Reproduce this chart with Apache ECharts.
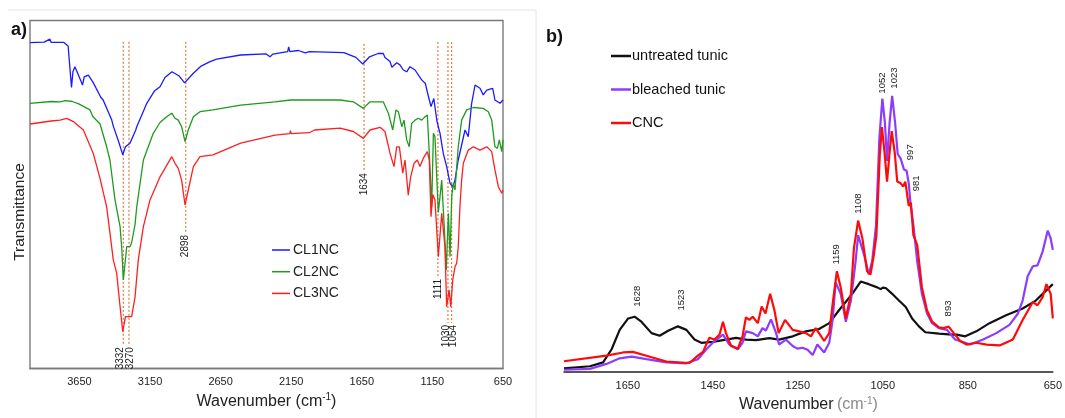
<!DOCTYPE html>
<html>
<head>
<meta charset="utf-8">
<script src="https://cdn.jsdelivr.net/npm/echarts@6/dist/echarts.min.js"></script>
<style>
html,body{margin:0;padding:0;background:#fff;}
#chart{width:1065px;height:418px;}
</style>
</head>
<body>
<div id="chart"></div>
<script>
// ---------- Panel a data: [wavenumber, transmittance (a.u.)] ----------
const seriesNamesA = ['CL1NC', 'CL2NC', 'CL3NC'];
const cl1nc = [[4000,108.6],[3900,108.8],[3860,109.8],[3850,108.7],[3760,108.7],[3730,107.5],[3706,93.7],[3696,98.9],[3682,100.6],[3657,97.8],[3628,94.5],[3616,97.2],[3587,97.8],[3552,95.3],[3500,90.5],[3482,89.5],[3421,82.8],[3410,80.8],[3372,75.6],[3343,71.2],[3324,73.9],[3292,75.1],[3251,79.5],[3244,80.6],[3190,86.5],[3173,88.4],[3117,92.6],[3079,93.9],[3044,97],[2995,98.9],[2946,97.6],[2905,95.2],[2861,97.5],[2843,98.4],[2788,100.8],[2725,102.3],[2678,103.1],[2508,104.5],[2330,104.9],[2300,103.9],[2280,104.8],[2175,105.6],[2168,107.2],[2160,105.6],[2100,106],[2050,105.2],[2021,105.6],[1777,105.3],[1692,103.7],[1643,101.5],[1595,103.9],[1535,105],[1498,105],[1486,103.7],[1450,102.3],[1437,100.4],[1427,100.6],[1403,101.9],[1380,101.2],[1356,99.5],[1332,98.9],[1309,100.6],[1273,99.5],[1226,96.2],[1200,95],[1185,92],[1160,87.3],[1140,90],[1118,82.5],[1096,78.4],[1073,71.7],[1049,67.3],[1025,61.7],[1006,60.6],[990,62.8],[967,69.5],[919,79.5],[896,77.3],[872,88.4],[848,94.5],[813,93.4],[790,91.2],[765,92.8],[723,93.4],[707,89.5],[671,88.4],[650,89.5]];
const cl2nc = [[4000,88.4],[3850,89],[3787,88.9],[3750,89.3],[3700,89],[3655,88.2],[3646,88.4],[3575,86.2],[3555,84],[3504,81.5],[3457,73.9],[3434,69.5],[3398,56.2],[3362,47.3],[3350,40],[3339,29.5],[3327,35],[3315,40.6],[3292,40.6],[3280,42],[3268,41.7],[3256,48],[3244,53.9],[3197,69.5],[3127,78.4],[3079,82],[3032,83.9],[2996,85.1],[2973,83.4],[2950,82.8],[2926,80.6],[2902,75.6],[2879,79.5],[2843,83.9],[2796,85.6],[2704,86.2],[2508,87.8],[2265,88.9],[2155,89.5],[1990,89.5],[1804,89.5],[1710,88.9],[1639,86.7],[1592,88.9],[1498,88.9],[1462,85.1],[1431,79.5],[1408,86.2],[1391,85.6],[1367,80.6],[1351,82.8],[1332,76.2],[1314,73.9],[1297,81.7],[1273,82.8],[1250,83.4],[1226,82.8],[1202,83.9],[1186,84.5],[1172,71.7],[1155,53.9],[1143,78.4],[1132,77.3],[1108,52],[1084,62.8],[1065,46.2],[1052,32.8],[1037,51.7],[1025,37.3],[1013,57.3],[1002,61.7],[990,59.5],[967,73.9],[943,82.8],[907,86.2],[860,87],[790,86.7],[754,85.6],[730,82.8],[707,73.9],[690,73.4],[676,76.2],[659,72.3],[650,76.2]];
const cl3nc = [[4000,81.5],[3850,82.5],[3787,82.8],[3740,83.4],[3693,82.3],[3622,79.5],[3552,71.7],[3504,63.4],[3457,53.9],[3410,36.2],[3386,31.7],[3362,20.6],[3343,12.3],[3324,17.3],[3304,17.3],[3280,17.3],[3256,23.9],[3233,36.2],[3197,47.3],[3150,56.2],[3079,63.9],[2996,70.6],[2973,68.4],[2950,66.7],[2926,62.8],[2902,54.5],[2879,59.5],[2843,67.3],[2796,70.6],[2704,71.2],[2508,75.1],[2265,77.8],[2160,78.3],[2155,79.3],[2150,78.3],[2021,78.6],[1985,79.5],[1804,80.1],[1710,79],[1639,76.7],[1592,79.5],[1521,80.4],[1486,79],[1450,71.7],[1422,67.3],[1403,73.9],[1384,73.9],[1360,65.1],[1344,69.5],[1321,57.8],[1304,63.9],[1280,68.4],[1257,69.5],[1238,67.3],[1214,70.1],[1186,72.3],[1172,69.5],[1160,50.6],[1147,58],[1132,56.2],[1108,37.3],[1084,51.7],[1075,52],[1061,40.6],[1049,20.6],[1032,26.2],[1020,20.6],[1006,29.5],[990,33.9],[978,35.1],[967,40.6],[955,53.9],[943,62.8],[931,68.4],[896,72.8],[860,73.9],[813,72.8],[765,73.9],[730,72.3],[707,66.2],[683,60.6],[659,58.4],[650,59.5]];
// peak marker lines: [wavenumber, top, bottom]
const peakLinesA = [[3339,108.9,7.8],[3299,108.9,7.8],[2897,108.9,45.2],[1634,108.2,65.8],[1111,108.8,30.5],[1040,108.8,15.2],[1014,108.8,15.2]];
const peakLabelsA = ['3332','3270','2898','1634','1111','1030','1054'];
const ticksA = [650,1150,1650,2150,2650,3150,3650];

// ---------- Panel b data: [wavenumber, absorbance (a.u.)] ----------
const seriesNamesB = ['untreated tunic', 'bleached tunic', 'CNC'];
const untreated = [[1800,1.3],[1739,2],[1708,3.3],[1688,7.8],[1669,14.4],[1649,18.3],[1634,18.9],[1618,17.2],[1594,13.3],[1575,12.4],[1555,14.1],[1532,15.6],[1512,14.4],[1493,11.1],[1477,10],[1450,10.3],[1419,11.1],[1395,11.7],[1372,11.1],[1348,10.9],[1317,11.6],[1294,11.1],[1262,12.2],[1231,13.9],[1200,14.7],[1176,16.7],[1153,21.1],[1122,26.7],[1102,30.9],[1083,30],[1063,28.9],[1055,28.3],[1050,28.8],[1043,28.7],[1028,26.7],[1012,24.4],[996,22.2],[981,18.3],[965,15.6],[950,13.6],[918,13.1],[887,12.8],[876,12.8],[856,12.2],[830,13.9],[799,16.7],[760,19.4],[721,21.7],[690,24.4],[666,27.8],[650,30]];
const bleached = [[1800,0.8],[1739,1.1],[1700,2.8],[1669,4.7],[1641,5.3],[1606,4.4],[1559,3.3],[1512,3],[1485,4.4],[1465,7.8],[1446,10.6],[1426,12.8],[1411,9.4],[1391,7.8],[1380,10],[1372,13.9],[1356,13.3],[1344,12.2],[1333,15],[1325,14.2],[1313,18],[1301,13.3],[1294,9.4],[1278,11.1],[1262,8.9],[1251,8],[1239,8.3],[1227,7.6],[1215,5.8],[1204,9.4],[1188,6.7],[1176,10],[1168,17.8],[1161,30.6],[1149,26.7],[1137,17.2],[1125,24.4],[1114,37.8],[1108,46.7],[1094,40],[1083,33.3],[1075,37.8],[1066,50],[1058,80],[1051,93.3],[1045,85],[1040,72],[1034,85],[1028,94.2],[1021,85],[1015,74.4],[1008,72.8],[1000,69.1],[994,68.7],[989,64.4],[985,57.8],[977,48.9],[969,37.8],[958,26.7],[946,20],[934,16.7],[918,15],[899,14.4],[880,11.1],[856,10],[845,9.4],[814,11.1],[783,13.3],[752,16.1],[732,20],[721,24.4],[709,32.8],[697,36.1],[686,36.4],[674,41.1],[662,48.3],[655,45.6],[650,41.7]];
const cnc = [[1800,3.7],[1700,5.6],[1661,6.7],[1638,6.9],[1606,5.6],[1559,3.6],[1505,3.1],[1485,5.6],[1473,6.9],[1458,11.7],[1446,11.1],[1434,12.8],[1426,17.2],[1419,13.3],[1407,8.9],[1391,8],[1380,12.2],[1372,18.7],[1364,17.8],[1356,18.9],[1344,16.7],[1335,22.4],[1326,20],[1315,26.7],[1305,21.1],[1295,13.3],[1280,17.8],[1262,14.4],[1247,13.9],[1231,13.3],[1219,12.2],[1208,15],[1200,13.3],[1188,10.6],[1176,13.3],[1167,24.4],[1158,34.4],[1149,28.9],[1137,18.3],[1125,26.7],[1118,42.2],[1108,51.7],[1098,45.6],[1087,34.4],[1079,33.3],[1071,40],[1065,46.7],[1057,74.4],[1052,83.6],[1046,75],[1040,65],[1034,75],[1029,82.2],[1022,75],[1016,65],[1008,64.4],[1002,63.3],[997,65],[989,56.7],[984,57.8],[978,46.7],[969,43.3],[958,28.9],[946,21.1],[934,17.2],[918,15.3],[907,15],[895,15.5],[883,13.3],[868,10.6],[853,9.4],[830,10],[806,9.4],[775,9.1],[744,11.1],[721,17.8],[697,23.9],[686,22.8],[674,25.6],[665,30],[655,26.7],[650,18.3]];
// peak labels: [wavenumber, height of label base]
const peakLabelPosB = [[1628,22.3],[1523,21],[1159,36.7],[1108,54],[1052,95],[1023,96.7],[985,72.3],[970,61.7],[896,19]];
const peakLabelsB = ['1628','1523','1159','1108','1052','1023','997','981','893'];
const ticksB = [650,850,1050,1250,1450,1650];

// ---------- styling ----------
const FONT = '"Liberation Sans", Arial, Helvetica, sans-serif';
const colorsA = ['#1a1aff', '#1f9a1f', '#ff1f1f'];
const colorsB = ['#111111', '#8c3cff', '#ff0a0a'];
const labelDxA = [-3, 1, 0, 0, 0, -2, 2];

function lineSeries(name, data, color, width, xi) {
  return {
    name: name, type: 'line', data: data, xAxisIndex: xi, yAxisIndex: xi,
    showSymbol: false, symbol: 'none', color: color, silent: true,
    lineStyle: {color: color, width: width}, animation: false, clip: true
  };
}

const chart = echarts.init(document.getElementById('chart'), null, {renderer: 'canvas'});

const option = {
  animation: false,
  backgroundColor: '#ffffff',
  textStyle: {fontFamily: FONT},
  grid: [
    {left: 30, right: 562, top: 20.5, bottom: 49.5, show: true, borderColor: '#7a7a7a', borderWidth: 1.4, backgroundColor: 'transparent'},
    {left: 564, right: 9, top: 35, bottom: 38}
  ],
  xAxis: [
    {
      gridIndex: 0, type: 'value', inverse: true, min: 650, max: 4000, interval: 500,
      axisLine: {show: true, lineStyle: {color: '#7a7a7a', width: 1.4}},
      axisTick: {show: false}, splitLine: {show: false},
      axisLabel: {fontSize: 11, color: '#222', margin: 8, fontFamily: FONT,
        formatter: v => ticksA.indexOf(v) >= 0 ? String(v) : ''},
      name: '{n|Wavenumber (cm}{s|-1}{n|)}', nameLocation: 'middle', nameGap: 23,
      nameTextStyle: {rich: {
        n: {fontSize: 16, color: '#222', fontFamily: FONT, lineHeight: 18},
        s: {fontSize: 10, color: '#222', fontFamily: FONT, verticalAlign: 'top', lineHeight: 12}
      }}
    },
    {
      gridIndex: 1, type: 'value', inverse: true, min: 650, max: 1800, interval: 200,
      axisLine: {show: true, lineStyle: {color: '#222', width: 1.5}},
      axisTick: {show: false}, splitLine: {show: false},
      axisLabel: {fontSize: 11, color: '#222', margin: 8, fontFamily: FONT,
        formatter: v => ticksB.indexOf(v) >= 0 ? String(v) : ''},
      name: '{n|Wavenumber} {g|(cm}{gs|-1}{g|)}', nameLocation: 'middle', nameGap: 22,
      nameTextStyle: {rich: {
        n: {fontSize: 16, color: '#222', fontFamily: FONT, lineHeight: 18},
        g: {fontSize: 16, color: '#8a8a8a', fontFamily: FONT, lineHeight: 18},
        gs: {fontSize: 10, color: '#8a8a8a', fontFamily: FONT, verticalAlign: 'top', lineHeight: 12}
      }}
    }
  ],
  yAxis: [
    {gridIndex: 0, type: 'value', min: 0, max: 116, axisLine: {show: false}, axisTick: {show: false}, axisLabel: {show: false}, splitLine: {show: false}},
    {gridIndex: 1, type: 'value', min: 0, max: 115, axisLine: {show: false}, axisTick: {show: false}, axisLabel: {show: false}, splitLine: {show: false}}
  ],
  legend: [
    {
      data: seriesNamesA, orient: 'vertical', left: 267, top: 238,
      icon: 'rect', itemWidth: 18, itemHeight: 1.5, itemGap: 7.7,
      textStyle: {fontSize: 14, color: '#222', fontFamily: FONT, lineHeight: 14, padding: [0, 0, 0, -2]},
      selectedMode: false
    },
    {
      data: seriesNamesB, orient: 'vertical', left: 606, top: 43.5,
      icon: 'rect', itemWidth: 20, itemHeight: 2.5, itemGap: 18.5,
      textStyle: {fontSize: 14.5, color: '#111', fontFamily: FONT, lineHeight: 14.5, padding: [0, 0, 0, -4]},
      selectedMode: false
    }
  ],
  graphic: [
    {type: 'line', shape: {x1: 8, y1: 10, x2: 536, y2: 10}, style: {stroke: '#e4e4e4', lineWidth: 1}, silent: true},
    {type: 'line', shape: {x1: 536, y1: 10, x2: 536, y2: 418}, style: {stroke: '#e4e4e4', lineWidth: 1}, silent: true},
    {type: 'text', left: 11, top: 21, style: {text: 'a)', font: 'bold 18px ' + FONT, fill: '#111'}, silent: true},
    {type: 'text', left: 546, top: 28, style: {text: 'b)', font: 'bold 18px ' + FONT, fill: '#111'}, silent: true},
    {type: 'text', x: 19.5, y: 212, rotation: Math.PI / 2,
      style: {text: 'Transmittance', font: '15.5px ' + FONT, fill: '#222', align: 'center', verticalAlign: 'middle'}, silent: true}
  ],
  series: [
    lineSeries(seriesNamesA[0], cl1nc, colorsA[0], 1.3, 0),
    lineSeries(seriesNamesA[1], cl2nc, colorsA[1], 1.3, 0),
    lineSeries(seriesNamesA[2], cl3nc, colorsA[2], 1.3, 0),
    {
      type: 'custom', name: 'peaksA', xAxisIndex: 0, yAxisIndex: 0, silent: true, clip: false,
      data: peakLinesA, encode: {x: 0, y: [1, 2]},
      renderItem: function (params, api) {
        const wn = api.value(0);
        const p1 = api.coord([wn, api.value(1)]);
        const p2 = api.coord([wn, api.value(2)]);
        const i = params.dataIndex;
        return {type: 'group', children: [
          {type: 'line', shape: {x1: p1[0], y1: p1[1], x2: p2[0], y2: p2[1]},
            style: {stroke: '#e0783a', lineWidth: 1.2, lineDash: [2, 2]}},
          {type: 'text', x: p2[0] + labelDxA[i], y: p2[1] + 2, rotation: Math.PI / 2,
            style: {text: peakLabelsA[i], font: '10px ' + FONT, fill: '#222', align: 'right', verticalAlign: 'middle'}}
        ]};
      }
    },
    lineSeries(seriesNamesB[0], untreated, colorsB[0], 2.2, 1),
    lineSeries(seriesNamesB[1], bleached, colorsB[1], 2.2, 1),
    lineSeries(seriesNamesB[2], cnc, colorsB[2], 2.2, 1),
    {
      type: 'custom', name: 'peaksB', xAxisIndex: 1, yAxisIndex: 1, silent: true, clip: false,
      data: peakLabelPosB, encode: {x: 0, y: 1},
      renderItem: function (params, api) {
        const p = api.coord([api.value(0), api.value(1)]);
        return {type: 'text', x: p[0], y: p[1], rotation: Math.PI / 2,
          style: {text: peakLabelsB[params.dataIndex], font: '9.5px ' + FONT, fill: '#222', align: 'left', verticalAlign: 'middle'}};
      }
    }
  ]
};
chart.setOption(option);
</script>
</body>
</html>
